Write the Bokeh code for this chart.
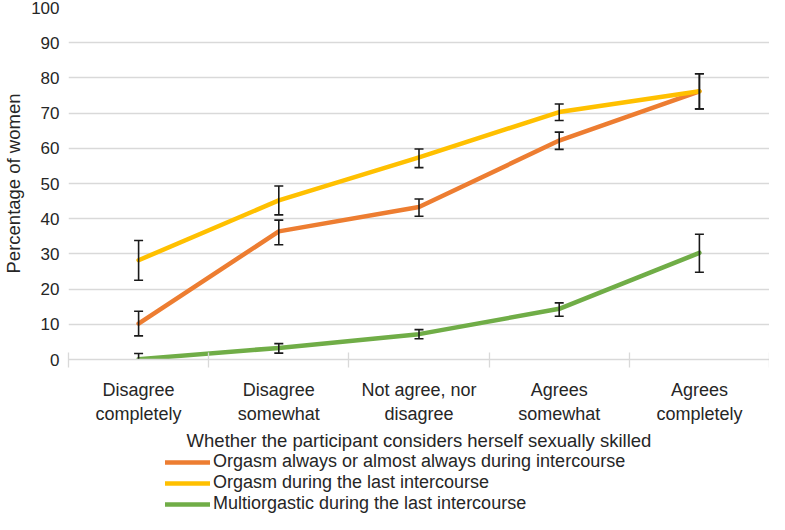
from bokeh.plotting import figure
from bokeh.layouts import column
from bokeh.models import (ColumnDataSource, Whisker, TeeHead, Legend, LegendItem,
                          FixedTicker, Range1d)
from bokeh.embed import file_html
from bokeh.resources import INLINE

categories = ["Disagree\ncompletely", "Disagree\nsomewhat", "Not agree, nor\ndisagree",
              "Agrees\nsomewhat", "Agrees\ncompletely"]

series_names = ["Orgasm always or almost always during intercourse",
                "Orgasm during the last intercourse",
                "Multiorgastic during the last intercourse"]

always_vals = [10.2, 36.4, 43.3, 62.2, 76.2]
always_low = [6.7, 32.6, 40.7, 59.7, 71.2]
always_high = [13.7, 39.6, 45.6, 64.6, 81.2]

last_vals = [28.2, 45.2, 57.4, 70.3, 76.2]
last_low = [22.5, 41.1, 54.5, 67.9, 71.2]
last_high = [33.8, 49.3, 59.8, 72.6, 81.2]

multi_vals = [0.1, 3.3, 7.2, 14.4, 30.3]
multi_low = [-1.5, 1.8, 5.9, 12.3, 24.8]
multi_high = [1.7, 4.5, 8.5, 16.1, 35.6]

colors = ["#ED7D31", "#FFC000", "#70AD47"]
y_ticks = list(range(0, 101, 10))

FONT = "Liberation Sans"
TXT = "#262626"
LINE_W = 4.5

n = len(categories)
xs = [i + 0.5 for i in range(n)]

p = figure(width=769, height=453, output_backend="svg", toolbar_location=None,
           x_range=Range1d(0, n), y_range=Range1d(0, 100),
           min_border_left=0, min_border_right=0, min_border_top=7, min_border_bottom=2)
p.outline_line_color = None

# grid
p.xgrid.grid_line_color = None
p.ygrid.grid_line_color = "#d9d9d9"
p.ygrid.grid_line_width = 1.3
p.ygrid.ticker = FixedTicker(ticks=y_ticks)

# y axis
p.yaxis.ticker = FixedTicker(ticks=y_ticks)
p.yaxis.axis_line_color = None
p.yaxis.major_tick_line_color = None
p.yaxis.minor_tick_line_color = None
p.yaxis.major_tick_out = 0
p.yaxis.major_tick_in = 0
p.yaxis.minor_tick_out = 0
p.yaxis.major_label_text_font = FONT
p.yaxis.major_label_text_font_size = "17px"
p.yaxis.major_label_text_color = TXT
p.yaxis.axis_label = "Percentage of women"
p.yaxis.axis_label_text_font = FONT
p.yaxis.axis_label_text_font_size = "18.5px"
p.yaxis.axis_label_text_font_style = "normal"
p.yaxis.axis_label_text_color = TXT
p.yaxis.axis_label_standoff = 4
p.yaxis.major_label_standoff = 9

# x axis: labels at centres, tick marks at category boundaries
p.xaxis.ticker = FixedTicker(ticks=xs, minor_ticks=list(range(n + 1)))
p.xaxis.major_label_overrides = {x: c for x, c in zip(xs, categories)}
p.xaxis.major_tick_line_color = None
p.xaxis.major_tick_out = 0
p.xaxis.minor_tick_line_color = "#d9d9d9"
p.xaxis.minor_tick_line_width = 1.3
p.xaxis.minor_tick_in = 7
p.xaxis.minor_tick_out = 8
p.xaxis.axis_line_color = "#d9d9d9"
p.xaxis.axis_line_width = 1.3
p.xaxis.major_label_text_font = FONT
p.xaxis.major_label_text_font_size = "18px"
p.xaxis.major_label_text_color = TXT
p.xaxis.major_label_standoff = 12
p.xaxis.axis_label = "Whether the participant considers herself sexually skilled"
p.xaxis.axis_label_text_font = FONT
p.xaxis.axis_label_text_font_size = "18.5px"
p.xaxis.axis_label_text_font_style = "normal"
p.xaxis.axis_label_text_color = TXT
p.xaxis.axis_label_standoff = 3

all_vals = [always_vals, last_vals, multi_vals]
all_low = [always_low, last_low, multi_low]
all_high = [always_high, last_high, multi_high]

# error bars (under the lines)
for vals, lo, hi in zip(all_vals, all_low, all_high):
    src = ColumnDataSource(dict(x=xs, y=vals, lower=lo, upper=hi))
    w = Whisker(base="x", lower="lower", upper="upper", source=src, dimension="height",
                line_color="#1a1a1a", line_width=1.6,
                upper_head=TeeHead(size=9, line_color="#1a1a1a", line_width=1.6),
                lower_head=TeeHead(size=9, line_color="#1a1a1a", line_width=1.6),
                level="glyph")
    p.add_layout(w)

sources = []
for vals, col in zip(all_vals, colors):
    src = ColumnDataSource(dict(x=xs, y=vals))
    sources.append(src)
    p.line("x", "y", source=src, line_color=col, line_width=LINE_W, line_join="round",
           line_cap="round")

# legend strip below the chart (its lines lie outside its own view; only the key shows)
lg = figure(width=769, height=61, output_backend="svg", toolbar_location=None,
            x_range=Range1d(0, n), y_range=Range1d(200, 300),
            x_axis_location=None, y_axis_location=None,
            min_border_left=p.min_border_left, min_border_right=0,
            min_border_top=0, min_border_bottom=0)
lg.outline_line_color = None
lg.xgrid.grid_line_color = None
lg.ygrid.grid_line_color = None

items = []
for name, col, src in zip(series_names, colors, sources):
    r = lg.line("x", "y", source=src, line_color=col, line_width=LINE_W, line_cap="round")
    items.append(LegendItem(label=name, renderers=[r]))

legend = Legend(items=items, orientation="vertical", location=(97, 0),
                border_line_color=None, background_fill_alpha=0,
                glyph_width=45, glyph_height=20, label_standoff=3, spacing=0,
                padding=0, margin=0,
                label_text_font=FONT, label_text_font_size="18px",
                label_text_color=TXT, label_height=20)
lg.add_layout(legend, "center")

layout = column(p, lg, spacing=0)
open("out.html", "w").write(file_html(layout, INLINE))
